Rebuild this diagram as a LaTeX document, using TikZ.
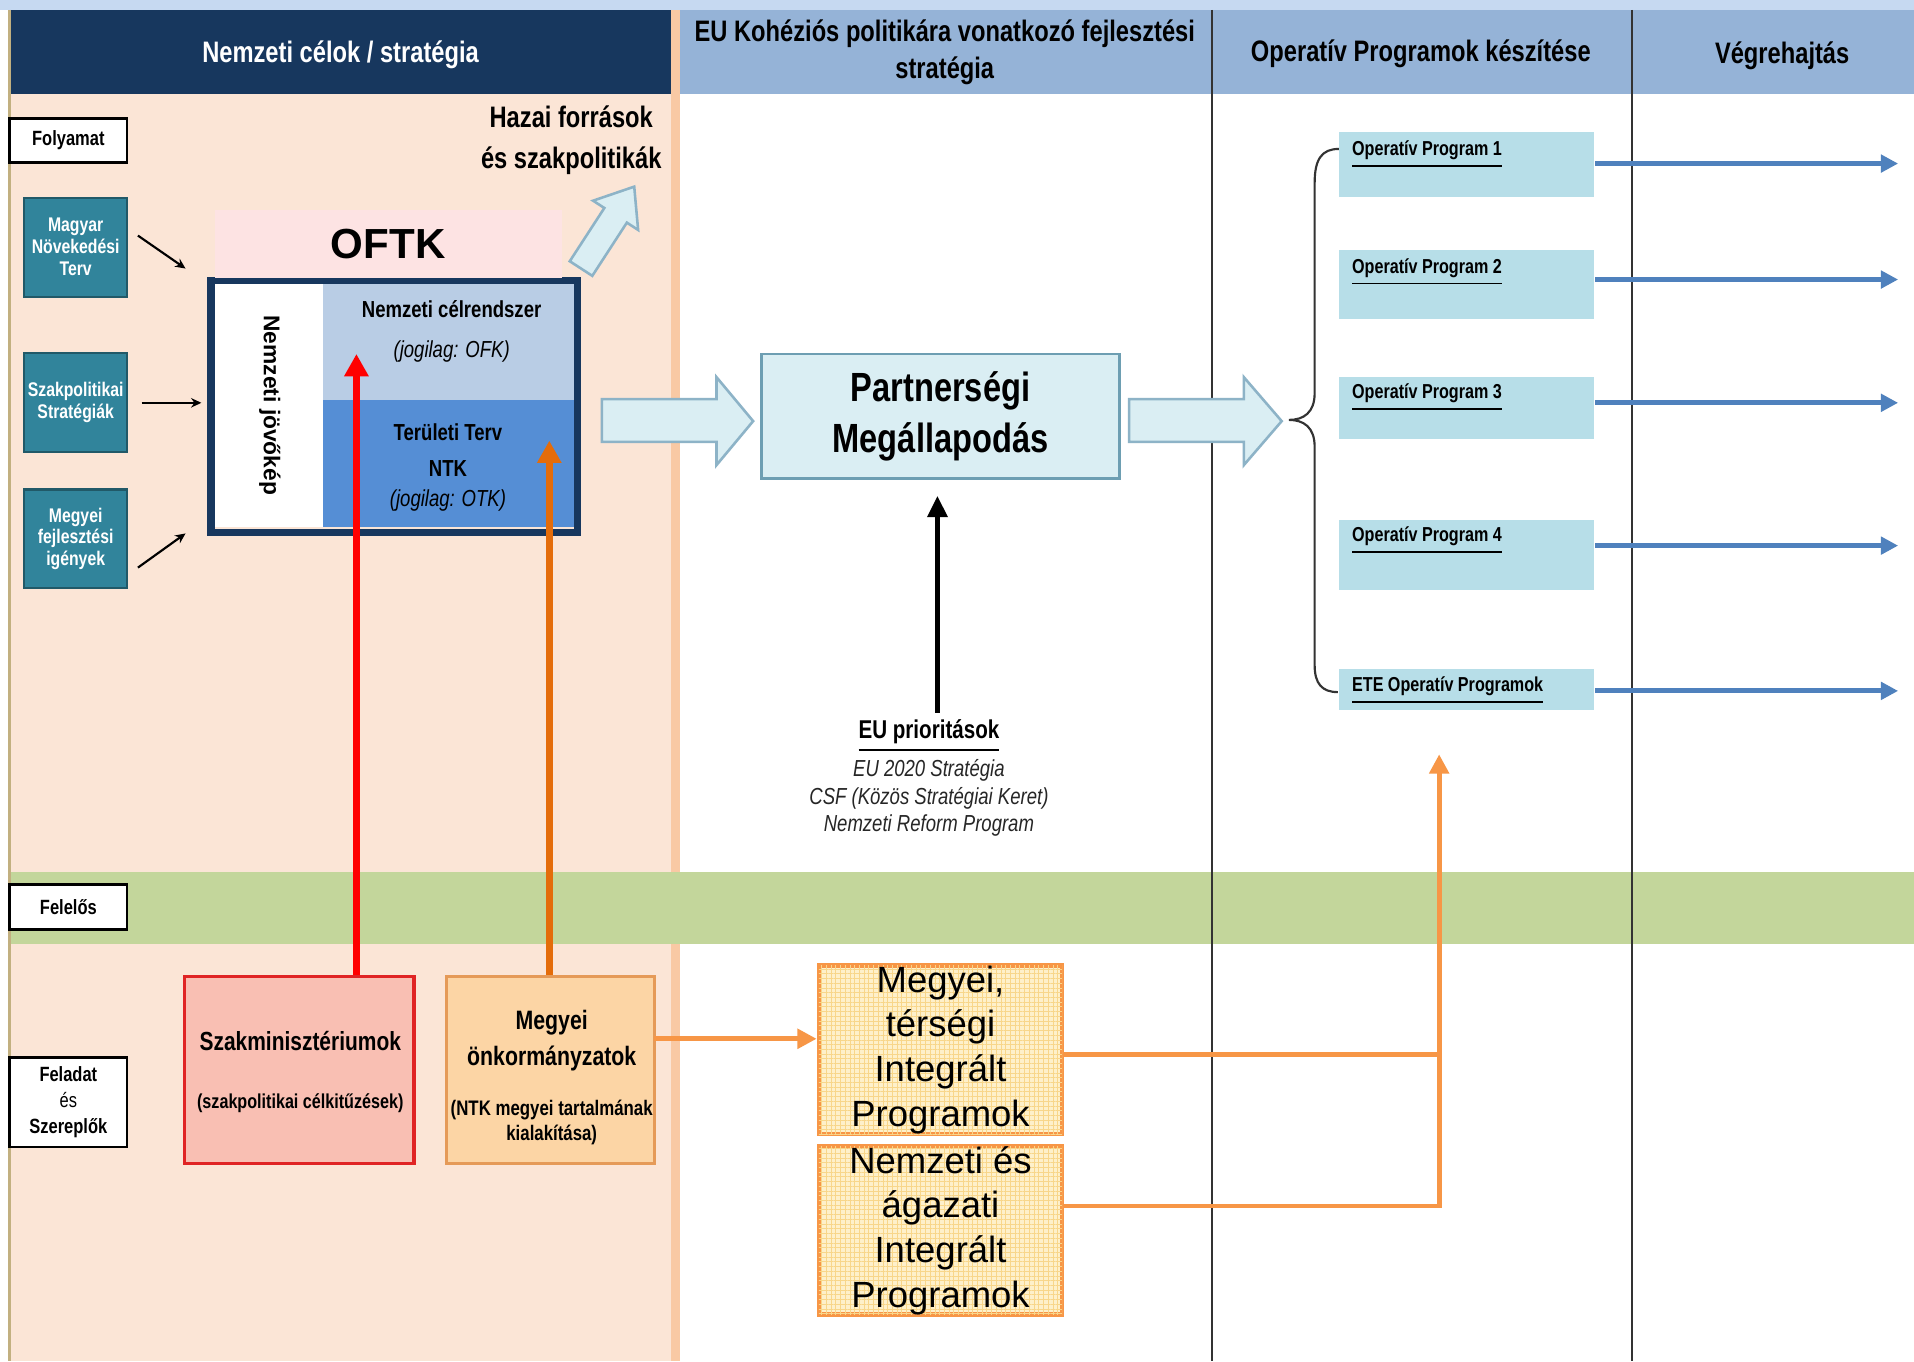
\documentclass[tikz,border=0pt]{standalone}
\usepackage{fontspec}
\setmainfont{Liberation Sans}
\newfontfamily\nar[FakeStretch=0.8]{Liberation Sans}
\usetikzlibrary{arrows.meta,calc,patterns.meta}
\definecolor{topblue}{HTML}{C6D9F1}
\definecolor{navy}{HTML}{17375E}
\definecolor{hdrblue}{HTML}{95B3D7}
\definecolor{beige}{HTML}{FBE5D6}
\definecolor{beigedk}{HTML}{F9C9A4}
\definecolor{bandgreen}{HTML}{C3D69B}
\definecolor{tealc}{HTML}{31849B}
\definecolor{tealdk}{HTML}{215968}
\definecolor{oftkpink}{HTML}{FDE3E3}
\definecolor{ltblue}{HTML}{B9CDE5}
\definecolor{midblue}{HTML}{558ED5}
\definecolor{paleblue}{HTML}{DAEEF3}
\definecolor{arrowedge}{HTML}{8DB3C7}
\definecolor{pmedge}{HTML}{6D9EB2}
\definecolor{opblue}{HTML}{B7DEE8}
\definecolor{steel}{HTML}{4F81BD}
\definecolor{redbox}{HTML}{F9BFB3}
\definecolor{redline}{HTML}{FF0000}
\definecolor{rededge}{HTML}{E02424}
\definecolor{orbox}{HTML}{FCD5A5}
\definecolor{oredge}{HTML}{E59A58}
\definecolor{orline}{HTML}{E46C0A}
\definecolor{orlight}{HTML}{F79646}
\definecolor{ipfill}{HTML}{FEF0CA}
\definecolor{ipgrid}{HTML}{F8D68A}
\definecolor{tanline}{HTML}{C2B080}
\begin{document}
\begin{tikzpicture}[x=0.01cm,y=-0.01cm,
  hdr/.style={font=\nar\fontsize{6.9pt}{8.5pt}\selectfont\bfseries, align=center},
  lbl/.style={draw=black, line width=0.6pt, fill=white, minimum width=0.96cm, inner sep=0pt,
     font=\nar\fontsize{4.8pt}{6pt}\selectfont\bfseries, align=center},
  tealbox/.style={fill=tealc, draw=tealdk, line width=0.5pt, minimum width=0.84cm, minimum height=0.81cm,
     inner sep=0pt, text=white, font=\nar\fontsize{4.6pt}{5.1pt}\selectfont\bfseries, align=center},
  frtxt/.style={font=\nar\fontsize{5.4pt}{6pt}\selectfont\bfseries, inner sep=0pt},
  fritx/.style={font=\nar\fontsize{5.4pt}{6pt}\selectfont\itshape, inner sep=0pt},
  smarr/.style={-{Stealth[length=2.4pt,width=2.2pt]}, line width=0.5pt},
  blockarr/.style={draw=arrowedge, fill=paleblue, line width=0.6pt},
  opbox/.style={fill=opblue, minimum width=2.09cm, inner sep=0pt},
  optxt/.style={font=\nar\fontsize{4.7pt}{5pt}\selectfont\bfseries, anchor=west, inner sep=0pt},
  steelarr/.style={steel, line width=1.2pt, -{Triangle[length=4pt,width=4pt]}},
  ipbox/.style={fill=ipfill, draw=orlight, line width=1.1pt, minimum width=1.99cm, inner sep=0pt,
     postaction={pattern={Hatch[distance=1.1pt,line width=0.2pt]}, pattern color=ipgrid},
     font=\fontsize{8.5pt}{10.4pt}\selectfont, align=center},
  orl/.style={orlight, line width=1.1pt}
]
\useasboundingbox (0,0) rectangle (1568,1115);
% backgrounds
\fill[white] (0,0) rectangle (1568,1115);
\fill[topblue] (0,0) rectangle (1568,8);
\fill[navy] (8,8) rectangle (550,77);
\fill[beigedk] (550,8) rectangle (557,1115);
\fill[hdrblue] (557,8) rectangle (1568,77);
\fill[beige] (8,77) rectangle (550,1115);
\fill[bandgreen] (8,714) rectangle (1568,773);
\draw[tanline, line width=0.6pt] (8,8) -- (8,1115);
\draw[black!80, line width=0.5pt] (993,8) -- (993,1115);
\draw[black!80, line width=0.5pt] (1337,8) -- (1337,1115);
% headers
\node[hdr, text=white] (h1) at (279,45) {Nemzeti célok / stratégia};
\node[hdr] (h2) at (774,43) {EU Kohéziós politikára vonatkozó fejlesztési\\stratégia};
\node[hdr] (h3) at (1164,44) {Operatív Programok készítése};
\node[hdr] (h4) at (1460,46) {Végrehajtás};
% row labels
\node[lbl, minimum height=0.36cm] (folyamat) at (56,115) {Folyamat};
\node[lbl, minimum height=0.37cm] (felelos) at (56,743) {Felelős};
\node[lbl, minimum height=0.73cm] (feladat) at (56,903) {Feladat\\{\mdseries és}\\Szereplők};
% teal inputs
\node[tealbox] (mnt) at (62,202.5) {Magyar\\Növekedési\\Terv};
\node[tealbox] (szs) at (62,330) {Szakpolitikai\\Stratégiák};
\node[tealbox] (mfi) at (62,441.5) {Megyei\\fejlesztési\\igények};
% OFTK frame
\fill[white] (176,233) rectangle (265,432);
\fill[ltblue] (265,233) rectangle (472,328);
\fill[midblue] (265,328) rectangle (472,432);
\node[draw=navy, line width=1.7pt, minimum width=3.0cm, minimum height=2.06cm, inner sep=0pt] (frame) at (323,333) {};
\node[fill=oftkpink, minimum width=2.84cm, minimum height=0.56cm, inner sep=0pt,
      font=\bfseries\fontsize{9.8pt}{10pt}\selectfont] (oftk) at (318,200) {OFTK};
\node[font=\bfseries\fontsize{5.3pt}{6pt}\selectfont, rotate=-90, inner sep=0pt] (jovo) at (221,332) {Nemzeti jövőkép};
\node[frtxt] (celr) at (370,253) {Nemzeti célrendszer};
\node[fritx] (ofk) at (370,288) {(jogilag: OFK)};
\node[frtxt] (tert) at (367,354) {Területi Terv};
\node[frtxt] (ntk) at (367,384) {NTK};
\node[fritx] (otk) at (367,410) {(jogilag: OTK)};
% small input arrows
\coordinate (s1) at (113,193); \coordinate (t1) at (152,220);
\coordinate (s2) at (116,330); \coordinate (t2) at (165,330);
\coordinate (s3) at (113,465); \coordinate (t3) at (152,437);
\draw[smarr] (s1) -- (t1);
\draw[smarr] (s2) -- (t2);
\draw[smarr] (s3) -- (t3);
% Hazai forrasok arrow
\begin{scope}[shift={(476,220)}, rotate=57]
\draw[blockarr] (0,-11) -- (52,-11) -- (52,-22) -- (80,0) -- (52,22) -- (52,11) -- (0,11) -- cycle;
\end{scope}
\node[font=\nar\fontsize{6.9pt}{9.4pt}\selectfont\bfseries, align=center] (hazai) at (468,115) {Hazai források\\és szakpolitikák};
% block arrows to/from PM
\draw[blockarr] (493,327) -- (587,327) -- (587,309) -- (617,345) -- (587,381) -- (587,362) -- (493,362) -- cycle;
\draw[blockarr] (925,327) -- (1019,327) -- (1019,309) -- (1050,345) -- (1019,381) -- (1019,362) -- (925,362) -- cycle;
\node[fill=paleblue, draw=pmedge, line width=0.6pt, minimum width=2.93cm, minimum height=1.02cm, inner sep=0pt,
      font=\nar\fontsize{9.5pt}{12pt}\selectfont\bfseries, align=center] (pm) at (770.5,341) {Partnerségi\\Megállapodás};
% brace
\draw[line width=0.5pt, black!80] (1097,122) .. controls (1083,122) and (1077,130) .. (1077,150) -- (1077,322)
   .. controls (1077,338) and (1068,344) .. (1056,344) .. controls (1068,344) and (1077,350) .. (1077,366)
   -- (1077,545) .. controls (1077,560) and (1083,567) .. (1096,567);
% OP boxes
\node[opbox, minimum height=0.53cm] (op1) at (1201.5,134.5) {};
\node[opbox, minimum height=0.56cm] (op2) at (1201.5,233) {};
\node[opbox, minimum height=0.51cm] (op3) at (1201.5,334.5) {};
\node[opbox, minimum height=0.57cm] (op4) at (1201.5,454.5) {};
\node[opbox, minimum height=0.34cm] (ete) at (1201.5,565) {};
\node[optxt] (op1l) at (1107,127) {\underline{Operatív Program 1}};
\node[optxt] (op2l) at (1107,223) {\underline{Operatív Program 2}};
\node[optxt] (op3l) at (1107,326) {\underline{Operatív Program 3}};
\node[optxt] (op4l) at (1107,443) {\underline{Operatív Program 4}};
\node[optxt] (etel) at (1107,566) {\underline{ETE Operatív Programok}};
\coordinate (e1) at (1555,134); \coordinate (e2) at (1555,229); \coordinate (e3) at (1555,330);
\coordinate (e4) at (1555,447); \coordinate (e5) at (1555,566);
\draw[steelarr] (e1 -| op1.east) -- (e1);
\draw[steelarr] (e2 -| op2.east) -- (e2);
\draw[steelarr] (e3 -| op3.east) -- (e3);
\draw[steelarr] (e4 -| op4.east) -- (e4);
\draw[steelarr] (e5 -| ete.east) -- (e5);
% EU priorities
\node[font=\nar\fontsize{6pt}{7pt}\selectfont\bfseries, inner sep=0pt] (eup) at (761,603) {\underline{EU prioritások}};
\node[font=\nar\itshape\fontsize{5.4pt}{6.4pt}\selectfont, align=center, inner sep=0pt, text=black!85] (eul) at (761,654)
   {EU 2020 Stratégia\\CSF (Közös Stratégiai Keret)\\Nemzeti Reform Program};
\coordinate (eutail) at (768,584);
\draw[line width=1.3pt, -{Triangle[length=5pt,width=4.5pt]}, shorten >=0.13cm] (eutail) -- (eutail |- pm.south);
% actors
\node[fill=redbox, draw=rededge, line width=0.8pt, minimum width=1.88cm, minimum height=1.53cm, inner sep=0pt] (szak) at (245,876.5) {};
\node[font=\nar\fontsize{6.1pt}{7pt}\selectfont\bfseries, inner sep=0pt] (szakt) at (246,853) {Szakminisztériumok};
\node[font=\nar\fontsize{4.7pt}{6pt}\selectfont\bfseries, inner sep=0pt] (szakc) at (246,904) {(szakpolitikai célkitűzések)};
\node[fill=orbox, draw=oredge, line width=0.8pt, minimum width=1.70cm, minimum height=1.53cm, inner sep=0pt] (megy) at (451,876.5) {};
\node[font=\nar\fontsize{6.2pt}{8.3pt}\selectfont\bfseries, align=center, inner sep=0pt] (megyt) at (452,852.5) {Megyei\\önkormányzatok};
\node[font=\nar\fontsize{4.9pt}{6pt}\selectfont\bfseries, align=center, inner sep=0pt] (megyc) at (452,919.5) {(NTK megyei tartalmának\\kialakítása)};
% vertical arrows into frame
\coordinate (redtip) at (292,290);
\coordinate (ortip) at (450,361);
\draw[redline, line width=1.6pt, -{Triangle[length=5.2pt,width=5.4pt]}] (szak.north -| redtip) -- (redtip);
\draw[orline, line width=1.6pt, -{Triangle[length=5.2pt,width=5.4pt]}] (megy.north -| ortip) -- (ortip);
% integrated programmes
\node[ipbox, minimum height=1.38cm] (ip1) at (770.5,860) {Megyei,\\térségi\\Integrált\\Programok};
\node[ipbox, minimum height=1.37cm] (ip2) at (770.5,1008) {Nemzeti és\\ágazati\\Integrált\\Programok};
\coordinate (a1) at (536,851);
\draw[orl, -{Triangle[length=4.5pt,width=4.5pt]}] (a1) -- (a1 -| ip1.west);
\coordinate (j1) at (1179,864); \coordinate (j2) at (1179,988); \coordinate (iptip) at (1179,618);
\draw[orl] (j1 -| ip1.east) -- (j1);
\draw[orl, -{Triangle[length=4.5pt,width=4.5pt]}] (j2 -| ip2.east) -- (j2) -- (iptip);
\end{tikzpicture}
\end{document}
